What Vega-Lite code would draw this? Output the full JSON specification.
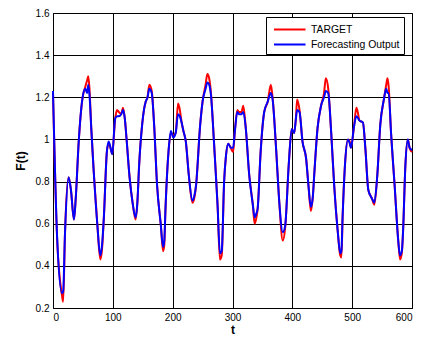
{
  "$schema": "https://vega.github.io/schema/vega-lite/v6.json",
  "width": 359,
  "height": 295,
  "autosize": {"type": "none"},
  "padding": {"left": 53, "top": 13, "right": 10, "bottom": 31},
  "background": "white",
  "data": {"values": [
    {"t":0,"output":1.23,"target":1.22},{"t":7,"output":0.53,"target":0.52},{"t":15,"output":0.27,"target":0.26},{"t":17,"output":0.28,"target":0.23},{"t":20,"output":0.55,"target":0.55},{"t":26,"output":0.82,"target":0.82},{"t":30,"output":0.76,"target":0.76},{"t":35,"output":0.62,"target":0.62},{"t":38,"output":0.72,"target":0.72},{"t":43,"output":0.99,"target":0.99},{"t":49,"output":1.19,"target":1.19},{"t":54,"output":1.24,"target":1.25},{"t":57,"output":1.22,"target":1.28},{"t":59,"output":1.26,"target":1.30},{"t":61,"output":1.21,"target":1.24},{"t":64,"output":1.05,"target":1.05},{"t":68,"output":0.85,"target":0.85},{"t":74,"output":0.6,"target":0.6},{"t":79,"output":0.45,"target":0.43},{"t":82,"output":0.50,"target":0.48},{"t":85,"output":0.63,"target":0.63},{"t":90,"output":0.94,"target":0.94},{"t":93,"output":0.99,"target":0.98},{"t":97,"output":0.95,"target":0.95},{"t":99,"output":0.93,"target":0.93},
    {"t":104,"output":1.10,"target":1.10},{"t":107,"output":1.11,"target":1.14},{"t":110,"output":1.11,"target":1.13},{"t":114,"output":1.12,"target":1.12},{"t":117,"output":1.14,"target":1.15},{"t":120,"output":1.10,"target":1.10},{"t":123,"output":1.0,"target":1.0},{"t":128,"output":0.82,"target":0.82},{"t":133,"output":0.70,"target":0.70},{"t":138,"output":0.63,"target":0.62},{"t":141,"output":0.70,"target":0.70},{"t":144,"output":0.88,"target":0.88},{"t":149,"output":1.07,"target":1.07},{"t":152,"output":1.14,"target":1.14},{"t":155,"output":1.18,"target":1.18},{"t":158,"output":1.20,"target":1.20},{"t":161,"output":1.24,"target":1.26},{"t":165,"output":1.22,"target":1.23},{"t":169,"output":1.07,"target":1.07},{"t":174,"output":0.78,"target":0.78},{"t":180,"output":0.60,"target":0.60},{"t":184,"output":0.49,"target":0.47},{"t":186,"output":0.52,"target":0.50},{"t":188,"output":0.67,"target":0.67},{"t":193,"output":0.94,"target":0.94},{"t":197,"output":1.04,"target":1.03},
    {"t":201,"output":1.01,"target":1.02},{"t":205,"output":1.03,"target":1.03},{"t":209,"output":1.12,"target":1.17},{"t":212,"output":1.11,"target":1.14},{"t":215,"output":1.08,"target":1.08},{"t":218,"output":1.04,"target":1.04},{"t":222,"output":0.99,"target":0.99},{"t":227,"output":0.83,"target":0.83},{"t":233,"output":0.71,"target":0.70},{"t":236,"output":0.73,"target":0.72},{"t":239,"output":0.78,"target":0.78},{"t":246,"output":1.07,"target":1.07},{"t":250,"output":1.18,"target":1.18},{"t":255,"output":1.24,"target":1.26},{"t":258,"output":1.27,"target":1.31},{"t":261,"output":1.26,"target":1.29},{"t":264,"output":1.21,"target":1.22},{"t":269,"output":0.99,"target":0.99},{"t":275,"output":0.69,"target":0.69},{"t":279,"output":0.46,"target":0.43},{"t":282,"output":0.47,"target":0.45},{"t":286,"output":0.80,"target":0.80},{"t":289,"output":0.92,"target":0.92},{"t":293,"output":0.98,"target":0.98},{"t":297,"output":0.96,"target":0.96},
    {"t":301,"output":0.96,"target":0.94},{"t":304,"output":1.04,"target":1.04},{"t":308,"output":1.13,"target":1.14},{"t":311,"output":1.12,"target":1.13},{"t":315,"output":1.12,"target":1.13},{"t":318,"output":1.13,"target":1.16},{"t":322,"output":1.06,"target":1.06},{"t":328,"output":0.83,"target":0.83},{"t":334,"output":0.69,"target":0.69},{"t":337,"output":0.63,"target":0.60},{"t":340,"output":0.65,"target":0.63},{"t":342,"output":0.67,"target":0.67},{"t":347,"output":0.94,"target":0.94},{"t":353,"output":1.13,"target":1.13},{"t":359,"output":1.18,"target":1.18},{"t":364,"output":1.22,"target":1.26},{"t":367,"output":1.19,"target":1.20},{"t":373,"output":0.95,"target":0.95},{"t":378,"output":0.71,"target":0.71},{"t":384,"output":0.56,"target":0.52},{"t":388,"output":0.59,"target":0.58},{"t":394,"output":0.88,"target":0.88},{"t":399,"output":1.05,"target":1.05},
    {"t":403,"output":1.03,"target":1.03},{"t":406,"output":1.10,"target":1.10},{"t":408,"output":1.14,"target":1.19},{"t":412,"output":1.13,"target":1.14},{"t":417,"output":0.99,"target":0.99},{"t":423,"output":0.91,"target":0.91},{"t":427,"output":0.78,"target":0.78},{"t":431,"output":0.68,"target":0.66},{"t":434,"output":0.72,"target":0.72},{"t":437,"output":0.85,"target":0.85},{"t":442,"output":1.05,"target":1.05},{"t":448,"output":1.16,"target":1.16},{"t":453,"output":1.20,"target":1.22},{"t":456,"output":1.23,"target":1.29},{"t":460,"output":1.22,"target":1.24},{"t":465,"output":1.03,"target":1.03},{"t":470,"output":0.78,"target":0.78},{"t":476,"output":0.56,"target":0.56},{"t":480,"output":0.46,"target":0.45},{"t":482,"output":0.47,"target":0.44},{"t":484,"output":0.63,"target":0.63},{"t":488,"output":0.88,"target":0.88},{"t":493,"output":1.00,"target":1.00},{"t":496,"output":0.98,"target":0.99},{"t":498,"output":0.96,"target":0.96},
    {"t":503,"output":1.06,"target":1.06},{"t":507,"output":1.11,"target":1.15},{"t":510,"output":1.10,"target":1.12},{"t":512,"output":1.09,"target":1.09},{"t":518,"output":1.08,"target":1.08},{"t":522,"output":0.96,"target":0.96},{"t":527,"output":0.76,"target":0.76},{"t":533,"output":0.72,"target":0.72},{"t":537,"output":0.70,"target":0.69},{"t":542,"output":0.83,"target":0.83},{"t":547,"output":1.07,"target":1.07},{"t":553,"output":1.19,"target":1.19},{"t":557,"output":1.24,"target":1.26},{"t":559,"output":1.22,"target":1.29},{"t":561,"output":1.22,"target":1.25},{"t":565,"output":1.03,"target":1.03},{"t":571,"output":0.78,"target":0.78},{"t":577,"output":0.52,"target":0.52},{"t":580,"output":0.45,"target":0.43},{"t":583,"output":0.47,"target":0.46},{"t":585,"output":0.56,"target":0.56},{"t":589,"output":0.88,"target":0.88},{"t":593,"output":1.00,"target":1.00},{"t":596,"output":0.96,"target":0.96},{"t":600,"output":0.95,"target":0.94}
  ]},
  "encoding": {
    "x": {"field": "t", "type": "quantitative", "scale": {"domain": [0, 600], "nice": false},
      "axis": {"title": "t", "values": [0,100,200,300,400,500,600]}}
  },
  "layer": [
    {"mark": {"type": "line", "strokeWidth": 2, "interpolate": "monotone"},
     "encoding": {
       "y": {"field": "target", "type": "quantitative", "scale": {"domain": [0.2, 1.6], "nice": false},
         "axis": {"title": "F(t)", "values": [0.2,0.4,0.6,0.8,1.0,1.2,1.4,1.6], "format": "~g"}},
       "color": {"datum": "TARGET", "type": "nominal",
         "scale": {"domain": ["TARGET", "Forecasting Output"], "range": ["#ff0000", "#0000ff"]},
         "legend": {"title": null}}
     }},
    {"mark": {"type": "line", "strokeWidth": 2, "interpolate": "monotone"},
     "encoding": {
       "y": {"field": "output", "type": "quantitative"},
       "color": {"datum": "Forecasting Output", "type": "nominal"}
     }}
  ],
  "config": {
    "font": "Liberation Sans",
    "view": {"stroke": "black", "strokeWidth": 1},
    "axis": {
      "grid": true, "gridColor": "#000000", "gridWidth": 1, "gridOpacity": 1,
      "domain": false, "ticks": false,
      "labelFont": "Liberation Sans", "labelFontSize": 10, "labelColor": "#000000",
      "titleFont": "Liberation Sans", "titleFontSize": 12, "titleFontWeight": "bold", "titleColor": "#000000",
      "labelPadding": 4
    },
    "axisX": {"titlePadding": 2},
    "axisY": {"titlePadding": 8},
    "legend": {
      "orient": "none", "legendX": 213, "legendY": 4,
      "strokeColor": "#000000", "fillColor": "#ffffff", "padding": 4,
      "symbolType": "M-0.6,0H3.6", "symbolSize": 225, "symbolStrokeWidth": 2,
      "labelFont": "Liberation Sans", "labelFontSize": 10.4, "labelColor": "#000000",
      "labelOffset": 24, "rowPadding": 1, "cornerRadius": 0
    }
  }
}
